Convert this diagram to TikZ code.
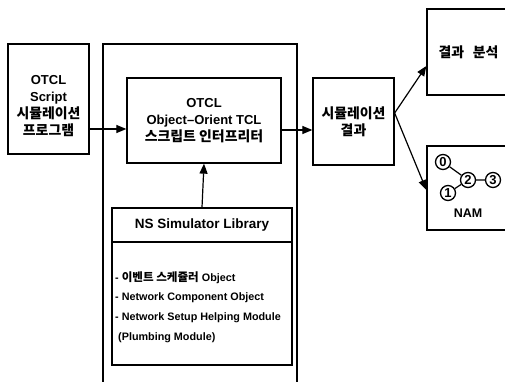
\documentclass[tikz,border=0pt]{standalone}
\usepackage{fontspec}
\setmainfont{Liberation Sans}
\newfontfamily\kr{Noto Sans CJK KR}[Scale=1.07]
\usetikzlibrary{arrows.meta,calc}
\tikzset{
  box/.style={draw, line width=1.3pt, minimum width=#1, inner sep=0pt, align=center, font=\bfseries\fontsize{13}{17}\selectfont},
  arr/.style={line width=1.2pt, -{Triangle[length=10pt,width=8pt]}},
  pnode/.style={draw, circle, line width=1.3pt, minimum size=15pt, inner sep=0pt, font=\bfseries\fontsize{13}{13}\selectfont},
  item/.style={font=\bfseries\fontsize{10.8}{13}\selectfont, anchor=west, inner sep=0pt}
}
\begin{document}
\begin{tikzpicture}[x=1pt,y=-1pt]
\useasboundingbox (0,0) rectangle (505,382);
% left script box
\node[box=81pt, minimum height=110pt] (script) at (48.5,99) {};
\node[align=center, inner sep=0pt, font=\bfseries\fontsize{13}{17.2}\selectfont] (scripttxt) at (48.5,106)
  {OTCL\\Script\\{\kr 시뮬레이션}\\{\kr 프로그램}};
% NS simulator frame, open at the bottom
\draw[line width=1.3pt] (103,385) -- (103,44) -- (297,44) -- (297,385);
% interpreter box
\node[box=154pt, minimum height=85pt] (otcl) at (204,120.5)
  {OTCL\\Object--Orient TCL\\{\kr 스크립트 인터프리터}};
% library
\node[box=180pt, minimum height=34pt, font=\bfseries\fontsize{13.5}{16}\selectfont] (libhead) at (202,225) {NS Simulator Library};
\node[draw, line width=1.3pt, minimum width=180pt, minimum height=123pt, inner sep=0pt] (libbody) at (202,303.5) {};
\node[item] (i1) at (115,278) {- {\kr 이벤트 스케쥴러} Object};
\node[item] (i2) at (115,298) {- Network Component Object};
\node[item] (i3) at (115,318) {- Network Setup Helping Module};
\node[item] (i4) at (118,338) {(Plumbing Module)};
% result box
\node[box=81pt, minimum height=87pt] (result) at (353.5,121.5)
  {{\kr 시뮬레이션}\\{\kr 결과}};
% analysis box and NAM box, running past the right edge
\node[box=95pt, minimum height=86pt, text width=95pt] (analysis) at (474.5,52)
  {\hspace*{-12pt}{\kr 결과\ \ 분석}};
\node[box=95pt, minimum height=84pt] (nam) at (474.5,188) {};
% small network inside NAM
\node[pnode] (n0) at (443,162) {0};
\node[pnode] (n2) at (468,180) {2};
\node[pnode] (n3) at (493,180) {3};
\node[pnode] (n1) at (448,193) {1};
\draw[line width=1.2pt] (n0) -- (n2) (n1) -- (n2) (n2) -- (n3);
\node[font=\bfseries\fontsize{12.5}{12}\selectfont] (namlbl) at (468,213) {NAM};
% connectors
\coordinate (s1) at ($(script.east)+(0,30)$);
\coordinate (o1) at ($(otcl.east)+(0,9.5)$);
\coordinate (fork) at ($(result.east)+(0,-8.5)$);
\coordinate (a1) at ($(analysis.west)+(0,14)$);
\coordinate (m1) at ($(nam.west)+(0,2)$);
\draw[arr] (s1) -- (otcl.west |- s1);
\draw[arr] (o1) -- (result.west |- o1);
\draw[arr] (libhead.north) -- (otcl.south);
\draw[arr] (fork) -- (a1);
\draw[arr] (fork) -- (m1);
\end{tikzpicture}
\end{document}
